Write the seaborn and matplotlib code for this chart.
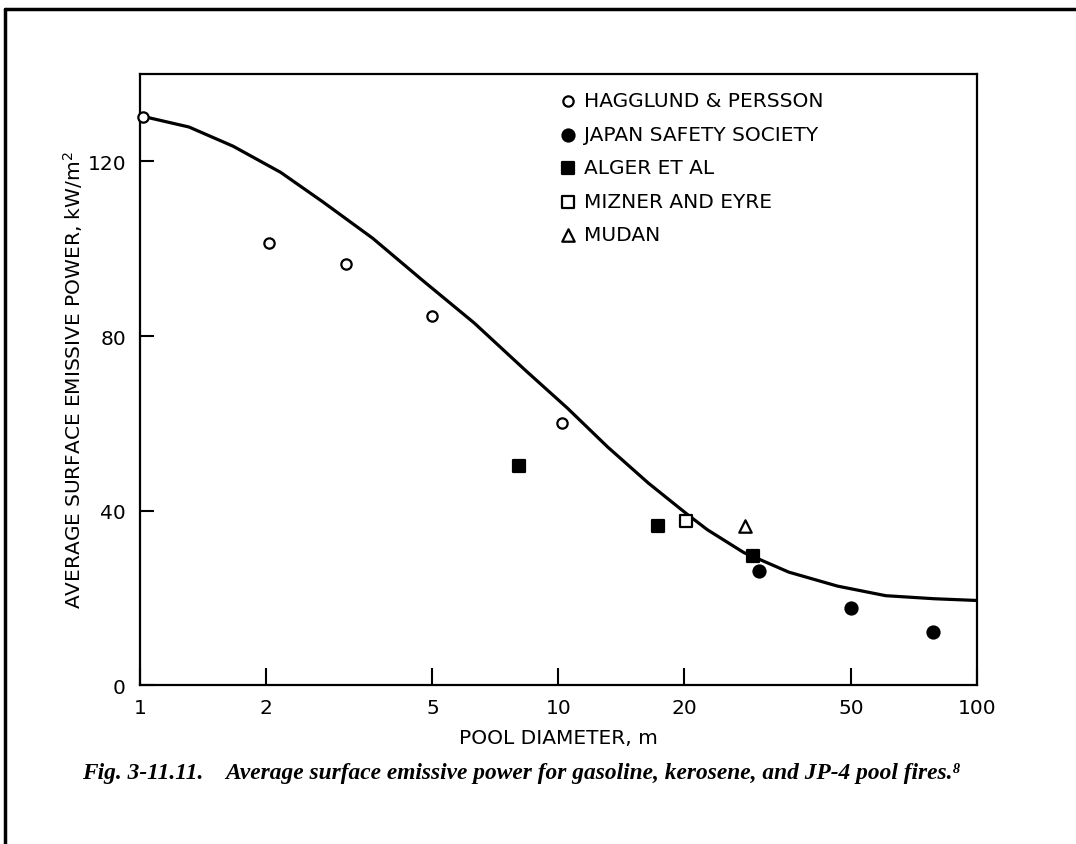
import matplotlib
matplotlib.use('Agg')
from matplotlib import pyplot as plt
from matplotlib.lines import Line2D
import pandas as pd
import seaborn as sns

# curve
curve_d = [1.0, 1.31, 1.67, 2.17, 2.74, 3.6, 4.73, 6.29, 8.37, 10.5, 13.1,
           16.4, 20.4, 22.7, 27.7, 35.5, 46.4, 60.5, 79, 100]
curve_e = [130.5, 127.9, 123.5, 117.5, 110.7, 102.4, 92.8, 83.0, 72.0, 63.5,
           54.6, 46.3, 39.0, 35.6, 30.4, 25.9, 22.7, 20.5, 19.8, 19.4]

# measured points
hagglund_d = [1.02, 2.03, 3.11, 5.0, 10.2]
hagglund_e = [130.3, 101.4, 96.4, 84.5, 60.0]
japan_d = [30.1, 50.0, 78.7]
japan_e = [26.1, 17.7, 12.2]
alger_d = [8.04, 17.3, 29.1]
alger_e = [50.2, 36.5, 29.7]
mizner_d = [20.2]
mizner_e = [37.5]
mudan_d = [27.9]
mudan_e = [36.5]

x_ticks = [1, 2, 5, 10, 20, 50, 100]
y_ticks = [0, 40, 80, 120]

sns.set_style("ticks")
plt.rcParams['font.family'] = ['DejaVu Sans']
plt.rcParams['text.color'] = 'black'
plt.rcParams['axes.labelcolor'] = 'black'

fig = plt.figure(figsize=(10.76, 8.45), dpi=100)
ax = fig.add_axes([0.130, 0.188, 0.778, 0.723])

sns.lineplot(x=curve_d, y=curve_e, color='black', linewidth=2.3,
             estimator=None, sort=True, ax=ax, zorder=2)

series = [
    ("HAGGLUND & PERSSON", hagglund_d, hagglund_e, 'o', 'white', 55),
    ("JAPAN SAFETY SOCIETY", japan_d, japan_e, 'o', 'black', 75),
    ("ALGER ET AL", alger_d, alger_e, 's', 'black', 85),
    ("MIZNER AND EYRE", mizner_d, mizner_e, 's', 'white', 85),
    ("MUDAN", mudan_d, mudan_e, '^', 'white', 80),
]
for name, xs, ys, mk, fc, size in series:
    df = pd.DataFrame({'d': xs, 'e': ys})
    sns.scatterplot(data=df, x='d', y='e', marker=mk, s=size, color=fc,
                    edgecolor='black', linewidth=1.6, label=name, ax=ax,
                    zorder=3, clip_on=False)

ax.set_xscale('log')
ax.set_xlim(1, 100)
ax.set_ylim(0, 140)
ax.set_xticks(x_ticks)
ax.set_xticklabels([str(t) for t in x_ticks])
ax.minorticks_off()
ax.set_yticks(y_ticks)
ax.tick_params(axis='both', direction='in', width=1.5, labelsize=14.5,
               colors='black')
ax.tick_params(axis='x', length=12, pad=9)
ax.tick_params(axis='y', length=10, pad=10)
for sp in ax.spines.values():
    sp.set_linewidth(1.6)
    sp.set_color('black')

ax.set_xlabel("POOL DIAMETER, m", fontsize=14.5, labelpad=8)
ax.set_ylabel("AVERAGE SURFACE EMISSIVE POWER, kW/m$^2$", fontsize=14.5,
              labelpad=2)

leg = ax.legend(loc='upper left', bbox_to_anchor=(0.49, 0.985), frameon=False,
                fontsize=14.5, labelspacing=0.72, handletextpad=0.3,
                handlelength=1.0, borderaxespad=0)
for t in leg.get_texts():
    t.set_color('black')

fig.text(0.076, 0.085,
         "Fig. 3-11.11.    Average surface emissive power for gasoline, "
         "kerosene, and JP-4 pool fires.\u2078",
         family=['Liberation Serif', 'DejaVu Serif'], style='italic',
         weight='bold', fontsize=16.8, va='center', color='black')

# page frame from the scan (top and left edges)
fig.add_artist(Line2D([0.005, 1.0], [0.988, 0.988], color='black', lw=2.5,
                      transform=fig.transFigure))
fig.add_artist(Line2D([0.005, 0.005], [0.0, 0.988], color='black', lw=2.5,
                      transform=fig.transFigure))

fig.savefig("out.png", dpi=100)
